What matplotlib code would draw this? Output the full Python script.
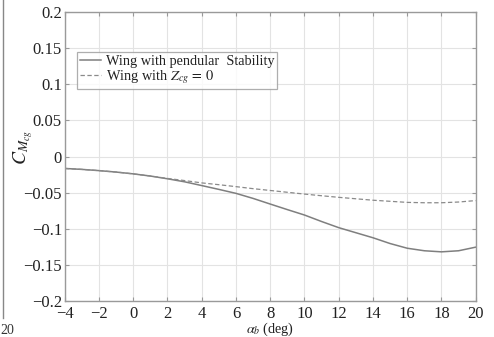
import matplotlib.pyplot as plt
from matplotlib.lines import Line2D

# Data
alpha_b = [-4, -3, -2, -1, 0, 1, 2, 3, 4, 5, 6, 7, 8, 9, 10,
           11, 12, 13, 14, 15, 16, 17, 18, 19, 20]
cm_pendular = [-0.0165, -0.0178, -0.0195, -0.0215, -0.024, -0.027, -0.0308,
               -0.035, -0.0402, -0.0455, -0.051, -0.058, -0.0658, -0.0735,
               -0.081, -0.090, -0.0985, -0.1055, -0.1125, -0.1205, -0.127,
               -0.1305, -0.132, -0.1305, -0.1255]
cm_zcg0 = [-0.0165, -0.0178, -0.0195, -0.0215, -0.024, -0.027, -0.0303,
           -0.0333, -0.0365, -0.039, -0.0417, -0.0445, -0.047, -0.0495,
           -0.052, -0.0543, -0.0565, -0.0585, -0.0605, -0.062, -0.0635,
           -0.064, -0.064, -0.063, -0.061]

xticks = list(range(-4, 21, 2))
yticks = [-0.2, -0.15, -0.1, -0.05, 0, 0.05, 0.1, 0.15, 0.2]
ytick_labels = ['\u22120.2', '\u22120.15', '\u22120.1', '\u22120.05', '0',
                '0.05', '0.1', '0.15', '0.2']
xtick_labels = [('\u2212' + str(-v)) if v < 0 else str(v) for v in xticks]

plt.rcParams['font.family'] = ['Liberation Serif', 'DejaVu Serif']
plt.rcParams['mathtext.fontset'] = 'stix'

fig = plt.figure(figsize=(4.94, 3.37), dpi=100)
ax = fig.add_axes([0.131, 0.107, 0.832, 0.857])

ax.plot(alpha_b, cm_pendular, color='#7f7f7f', lw=1.1, ls='-',
        label='Wing with pendular  Stability')
ax.plot(alpha_b, cm_zcg0, color='#8a8a8a', lw=0.9, ls=(0, (3.5, 2)),
        label='Wing with $Z_{cg}\\,=\\,0$')

ax.set_xlim(-4, 20)
ax.set_ylim(-0.2, 0.2)
ax.set_xticks(xticks)
ax.set_xticklabels(xtick_labels)
ax.set_yticks(yticks)
ax.set_yticklabels(ytick_labels)
ax.tick_params(direction='in', length=3, color='#999999', labelsize=12,
               labelcolor='#222222', top=True, right=True)
ax.tick_params(axis='y', pad=2)
ax.tick_params(axis='x', pad=4)
ax.grid(True, color='#e3e3e3', lw=0.8)
for s in ax.spines.values():
    s.set_color('#9a9a9a')
    s.set_linewidth(1.0)

ax.set_xlabel(r'$\alpha_b$ (deg)', fontsize=10.2, color='#222222', labelpad=-1.2)
ax.set_ylabel(r'$C_{M_{cg}}$', fontsize=14, color='#222222')
ax.yaxis.set_label_coords(-0.072, 0.53)

leg = ax.legend(loc='upper left', bbox_to_anchor=(0.03, 0.862),
                borderaxespad=0, fontsize=10.3, frameon=True, fancybox=False,
                handlelength=1.5, handletextpad=0.3, borderpad=0.2,
                labelspacing=0.05)
leg.get_frame().set_edgecolor('#9a9a9a')
leg.get_frame().set_linewidth(0.9)
for t in leg.get_texts():
    t.set_color('#222222')

# edge of the neighbouring figure, cropped in the original image
fig.add_artist(Line2D([0.006, 0.006], [0.055, 1.0], color='#888888', lw=1.0))
fig.text(0.0, 0.0, '20', fontsize=10, color='#333333', ha='left', va='bottom')

plt.savefig('out.png', dpi=100)
